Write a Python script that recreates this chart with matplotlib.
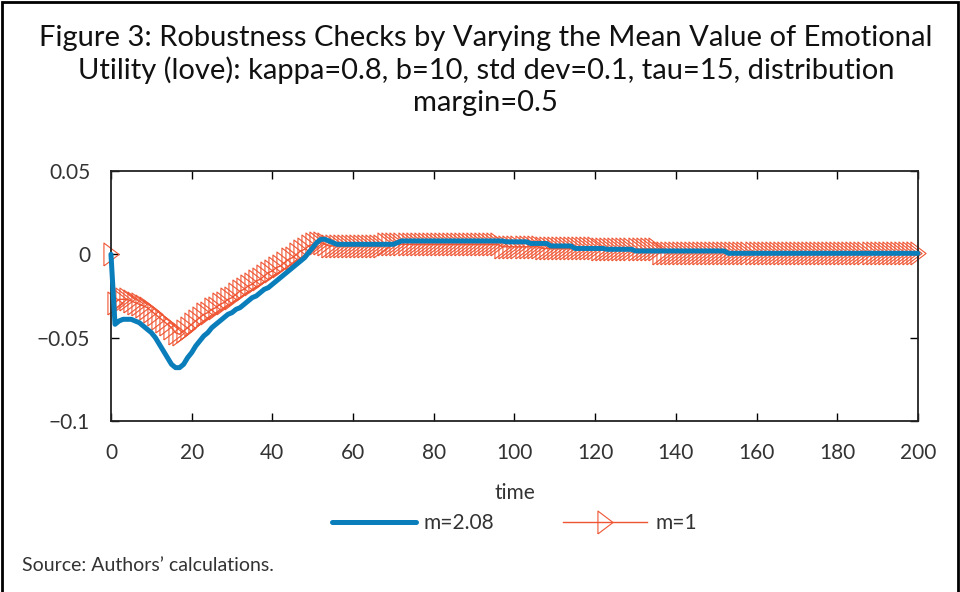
import numpy as np
import matplotlib
matplotlib.use("Agg")
import matplotlib.pyplot as plt
from matplotlib.patches import Rectangle

plt.rcParams["font.family"] = ["Lato", "DejaVu Sans"]

# Time axis (one step per period)
time = np.arange(0, 201)

# m=2.08 (t = 0..200)
m208 = [
    0.000, -0.042, -0.040, -0.039, -0.039, -0.039, -0.040, -0.041, -0.043, -0.045,
    -0.047, -0.050, -0.054, -0.058, -0.062, -0.066, -0.068, -0.068, -0.066, -0.062,
    -0.059, -0.055, -0.052, -0.049, -0.047, -0.044, -0.042, -0.040, -0.038, -0.036,
    -0.035, -0.033, -0.032, -0.030, -0.028, -0.026, -0.025, -0.023, -0.021, -0.020,
    -0.018, -0.016, -0.014, -0.012, -0.010, -0.008, -0.006, -0.004, -0.002, 0.001,
    0.004, 0.007, 0.009, 0.009, 0.008, 0.007, 0.006, 0.006, 0.006, 0.006,
    0.006, 0.006, 0.006, 0.006, 0.006, 0.006, 0.006, 0.006, 0.006, 0.006,
    0.006, 0.007, 0.008, 0.008, 0.008, 0.008, 0.008, 0.008, 0.008, 0.008,
    0.008, 0.008, 0.008, 0.008, 0.008, 0.008, 0.008, 0.008, 0.008, 0.008,
    0.008, 0.008, 0.008, 0.008, 0.008, 0.008, 0.008, 0.008, 0.0075, 0.0075,
    0.0075, 0.0075, 0.0075, 0.0075, 0.0065, 0.0065, 0.0065, 0.0065, 0.0065, 0.005,
    0.005, 0.005, 0.005, 0.005, 0.005, 0.0035, 0.0035, 0.0035, 0.0035, 0.0035,
    0.0035, 0.0035, 0.0035, 0.003, 0.003, 0.003, 0.003, 0.003, 0.003, 0.003,
    0.002, 0.002, 0.002, 0.002, 0.002, 0.002, 0.002, 0.002, 0.002, 0.002,
    0.002, 0.002, 0.002, 0.002, 0.002, 0.002, 0.002, 0.002, 0.002, 0.002,
    0.002, 0.002, 0.002, 0.0006, 0.0006, 0.0006, 0.0006, 0.0006, 0.0006, 0.0006,
    0.0006, 0.0006, 0.0006, 0.0006, 0.0006, 0.0006, 0.0006, 0.0006, 0.0006, 0.0006,
    0.0006, 0.0006, 0.0006, 0.0006, 0.0006, 0.0006, 0.0006, 0.0006, 0.0006, 0.0006,
    0.0006, 0.0006, 0.0006, 0.0006, 0.0006, 0.0006, 0.0006, 0.0006, 0.0006, 0.0006,
    0.0006, 0.0006, 0.0006, 0.0006, 0.0006, 0.0006, 0.0006, 0.0006, 0.0006, 0.0006,
    0.0006,
]

# m=1 (t = 0..200)
m1 = [
    0.000, -0.029, -0.027, -0.027, -0.027, -0.028, -0.029, -0.030, -0.031, -0.032,
    -0.034, -0.036, -0.038, -0.040, -0.042, -0.044, -0.047, -0.048, -0.046, -0.044,
    -0.042, -0.040, -0.038, -0.036, -0.035, -0.033, -0.032, -0.030, -0.029, -0.027,
    -0.026, -0.024, -0.022, -0.021, -0.019, -0.018, -0.016, -0.015, -0.013, -0.011,
    -0.010, -0.008, -0.007, -0.005, -0.003, -0.002, 0.000, 0.002, 0.003, 0.005,
    0.006, 0.007, 0.007, 0.006, 0.005, 0.005, 0.005, 0.005, 0.005, 0.005,
    0.005, 0.005, 0.005, 0.005, 0.005, 0.005, 0.005, 0.005, 0.006, 0.006,
    0.006, 0.006, 0.006, 0.006, 0.006, 0.006, 0.006, 0.006, 0.006, 0.006,
    0.006, 0.006, 0.006, 0.006, 0.006, 0.006, 0.006, 0.006, 0.006, 0.006,
    0.006, 0.006, 0.006, 0.006, 0.006, 0.006, 0.006, 0.0045, 0.0045, 0.0045,
    0.0045, 0.0045, 0.0045, 0.0045, 0.0045, 0.0045, 0.0045, 0.0035, 0.0035, 0.0035,
    0.0035, 0.0035, 0.0035, 0.0035, 0.0035, 0.0035, 0.0035, 0.0035, 0.0035, 0.0035,
    0.0035, 0.003, 0.003, 0.003, 0.003, 0.003, 0.003, 0.003, 0.003, 0.003,
    0.003, 0.003, 0.003, 0.003, 0.003, 0.003, 0.001, 0.001, 0.001, 0.001,
    0.001, 0.001, 0.001, 0.001, 0.001, 0.001, 0.001, 0.001, 0.001, 0.001,
    0.001, 0.001, 0.001, 0.001, 0.001, 0.001, 0.001, 0.001, 0.001, 0.001,
    0.001, 0.001, 0.001, 0.001, 0.001, 0.001, 0.001, 0.001, 0.001, 0.001,
    0.001, 0.001, 0.001, 0.001, 0.001, 0.001, 0.001, 0.001, 0.001, 0.001,
    0.001, 0.001, 0.001, 0.001, 0.001, 0.001, 0.001, 0.001, 0.001, 0.001,
    0.001, 0.001, 0.001, 0.001, 0.001, 0.001, 0.001, 0.001, 0.001, 0.001,
    0.0006,
]

x_ticks = [0, 20, 40, 60, 80, 100, 120, 140, 160, 180, 200]
y_ticks = [-0.1, -0.05, 0, 0.05]
y_tick_labels = ["\u22120.1", "\u22120.05", "0", "0.05"]

title = ("Figure 3: Robustness Checks by Varying the Mean Value of Emotional\n"
         "Utility (love): kappa=0.8, b=10, std dev=0.1, tau=15, distribution\n"
         "margin=0.5")

blue = "#0a7dbb"
orange = "#ef5533"
text_col = "#333333"

# tall, narrow right-pointing triangle
tri = [(-0.33, -0.5), (0.33, 0.0), (-0.33, 0.5), (-0.33, -0.5)]

fig = plt.figure(figsize=(9.6, 5.92), dpi=100)
ax = fig.add_axes([0.1156, 0.2889, 0.8406, 0.4223])

ax.plot(time, m208, color=blue, lw=3.6, solid_capstyle="round", label="m=2.08",
        zorder=3, clip_on=False)
ax.plot(time, m1, color=orange, lw=1.0, marker=tri, markersize=16.5,
        markerfacecolor="none", markeredgecolor=orange, markeredgewidth=0.8,
        label="m=1", zorder=2, clip_on=False)

ax.set_xlim(0, 200)
ax.set_ylim(-0.1, 0.05)
ax.set_xticks(x_ticks)
ax.set_yticks(y_ticks)
ax.set_yticklabels(y_tick_labels)
ax.tick_params(direction="in", length=6, width=1, top=True, right=True,
               labelsize=15, labelcolor=text_col)
ax.tick_params(axis="x", pad=16)
ax.tick_params(axis="y", pad=15)
for s in ax.spines.values():
    s.set_linewidth(1.3)
    s.set_color("#222222")

ax.set_xlabel("time", fontsize=15, color=text_col, labelpad=14)

leg = ax.legend(loc="upper center", bbox_to_anchor=(0.5, -0.295), ncol=2,
                frameon=False, fontsize=15, handlelength=4.0, handletextpad=0.4,
                columnspacing=3.3, labelcolor=text_col)

fig.text(0.506, 0.957, title, ha="center", va="top", fontsize=21,
         color="#111111", linespacing=1.24)
fig.text(0.023, 0.045, "Source: Authors\u2019 calculations.", fontsize=14,
         color=text_col, va="center")

fig.patches.append(Rectangle((0.002, -0.01), 0.996, 1.007, transform=fig.transFigure,
                             fill=False, lw=2, edgecolor="black"))

fig.savefig("out.png", dpi=100)
